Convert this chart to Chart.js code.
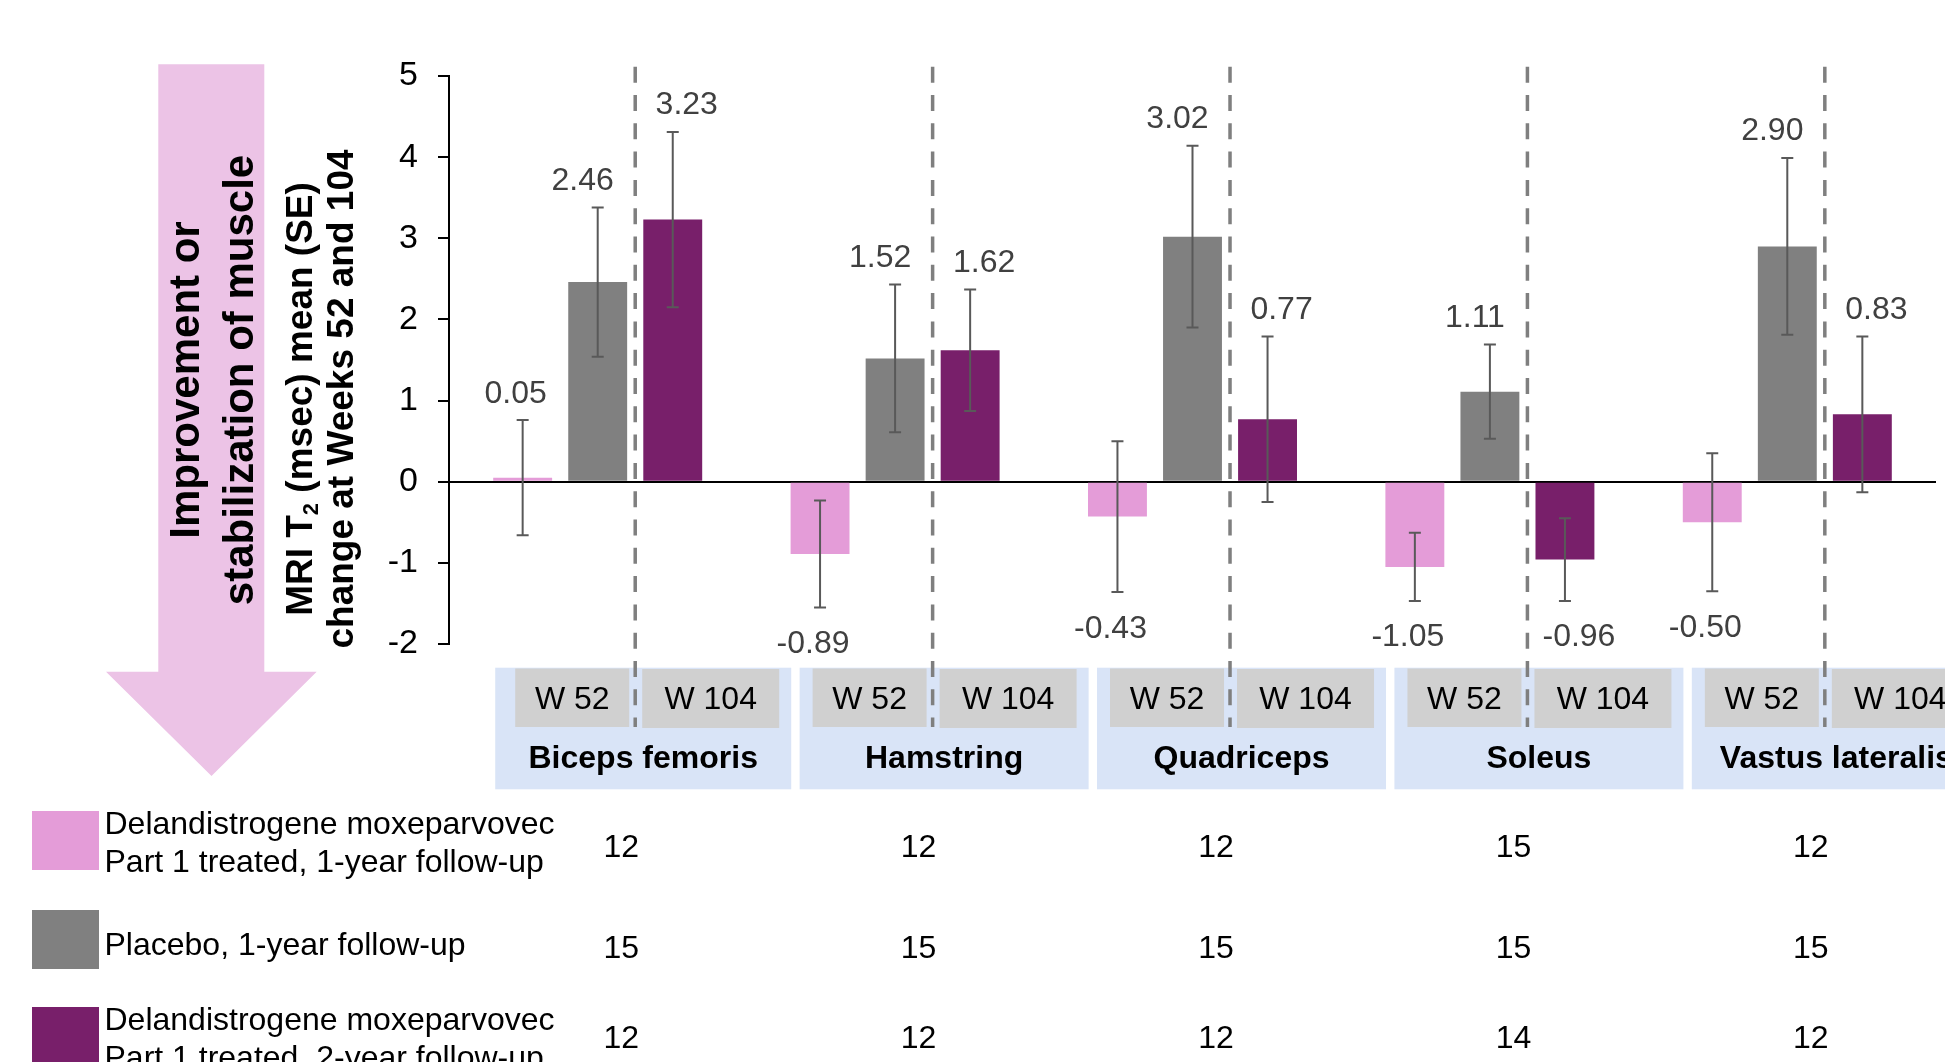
<!DOCTYPE html>
<html>
<head>
<meta charset="utf-8">
<title>MRI T2 change at Weeks 52 and 104</title>
<script src="https://cdn.jsdelivr.net/npm/chart.js@4/dist/chart.umd.min.js"></script>
<style>
  html, body { margin: 0; padding: 0; background: #fff; overflow: hidden; }
  canvas { display: block; }
</style>
</head>
<body>
<canvas id="chart" width="1945" height="1062"></canvas>
<script>
// ---- data ----
const muscles = ['Biceps femoris', 'Hamstring', 'Quadriceps', 'Soleus', 'Vastus lateralis'];
const weekLabels = ['W 52', 'W 104'];
const yTicks = [-2, -1, 0, 1, 2, 3, 4, 5];

const treated1yMean = [0.05, -0.89, -0.43, -1.05, -0.50];
const treated1ySE   = [0.71, 0.66, 0.93, 0.42, 0.85];
const placeboMean   = [2.46, 1.52, 3.02, 1.11, 2.90];
const placeboSE     = [0.92, 0.91, 1.12, 0.58, 1.09];
const treated2yMean = [3.23, 1.62, 0.77, -0.96, 0.83];
const treated2ySE   = [1.08, 0.75, 1.02, 0.51, 0.96];

const nTreated1y = [12, 12, 12, 15, 12];
const nPlacebo   = [15, 15, 15, 15, 15];
const nTreated2y = [12, 12, 12, 14, 12];

const seriesNames = [
  ['Delandistrogene moxeparvovec', 'Part 1 treated, 1-year follow-up'],
  ['Placebo, 1-year follow-up'],
  ['Delandistrogene moxeparvovec', 'Part 1 treated, 2-year follow-up']
];
const arrowText = ['Improvement or', 'stabilization of muscle'];
const yTitleLine1 = ['MRI T', '2', ' (msec) mean (SE)'];
const yTitleLine2 = 'change at Weeks 52 and 104';

// ---- styles ----
const FONT = '"Liberation Sans", Arial, Helvetica, sans-serif';
const COLORS = ['#E49CD8', '#808080', '#781F6A'];
const ARROW_COLOR = '#ECC3E6';
const PANEL_BLUE = '#D9E4F7';
const PANEL_GREY = '#D0D0D0';

Chart.defaults.font.family = FONT;

// Down arrow with its rotated caption, left of the axis
const arrowPlugin = {
  id: 'arrow',
  beforeDraw(chart) {
    const ctx = chart.ctx;
    ctx.save();
    ctx.fillStyle = ARROW_COLOR;
    ctx.beginPath();
    ctx.moveTo(158.3, 64.3);
    ctx.lineTo(264.3, 64.3);
    ctx.lineTo(264.3, 671.7);
    ctx.lineTo(316.7, 671.7);
    ctx.lineTo(211.5, 776);
    ctx.lineTo(106, 671.7);
    ctx.lineTo(158.3, 671.7);
    ctx.closePath();
    ctx.fill();

    ctx.fillStyle = '#000';
    ctx.font = 'bold 42px ' + FONT;
    ctx.textAlign = 'center';
    ctx.textBaseline = 'alphabetic';
    const baselines = [199, 253];
    arrowText.forEach((t, i) => {
      ctx.save();
      ctx.translate(baselines[i], 380);
      ctx.rotate(-Math.PI / 2);
      ctx.fillText(t, 0, 0);
      ctx.restore();
    });
    ctx.restore();
  }
};

// Two-line rotated y-axis title with a subscript
const yTitlePlugin = {
  id: 'yTitle',
  afterDraw(chart) {
    const ctx = chart.ctx;
    const cy = 399;
    ctx.save();
    ctx.fillStyle = '#000';
    ctx.textBaseline = 'alphabetic';
    const big = 'bold 37px ' + FONT, small = 'bold 22px ' + FONT;
    ctx.font = big;
    const w0 = ctx.measureText(yTitleLine1[0]).width;
    const w2 = ctx.measureText(yTitleLine1[2]).width;
    ctx.font = small;
    const w1 = ctx.measureText(yTitleLine1[1]).width;
    const total = w0 + w1 + w2;
    ctx.save();
    ctx.translate(311.7, cy);
    ctx.rotate(-Math.PI / 2);
    ctx.textAlign = 'left';
    let x = -total / 2;
    ctx.font = big; ctx.fillText(yTitleLine1[0], x, 0); x += w0;
    ctx.font = small; ctx.fillText(yTitleLine1[1], x, 6.5); x += w1;
    ctx.font = big; ctx.fillText(yTitleLine1[2], x, 0);
    ctx.restore();
    ctx.save();
    ctx.translate(353, cy);
    ctx.rotate(-Math.PI / 2);
    ctx.textAlign = 'center';
    ctx.font = big;
    ctx.fillText(yTitleLine2, 0, 0);
    ctx.restore();
    ctx.restore();
  }
};

// Position of the divider between the Week 52 and Week 104 bars of each muscle
function dividerX(chart, j) {
  const a = chart.getDatasetMeta(1).data[j];
  const b = chart.getDatasetMeta(2).data[j];
  return (a.x + b.x) / 2;
}

// Category panels, dashed dividers, N table and legend
const panelsPlugin = {
  id: 'panels',
  afterDraw(chart) {
    const ctx = chart.ctx;
    ctx.save();
    muscles.forEach((name, j) => {
      const d = dividerX(chart, j);
      // blue panel (the first one reaches a little further left)
      const left = d - 133 - (j === 0 ? 7 : 0);
      const right = d + 156;
      ctx.fillStyle = PANEL_BLUE;
      ctx.fillRect(left, 667.7, right - left, 121.6);
      // week boxes
      ctx.fillStyle = PANEL_GREY;
      ctx.fillRect(d - 120, 668.5, 114, 58.5);
      ctx.fillRect(d + 7, 669, 137, 59);
      ctx.fillStyle = '#000';
      ctx.textAlign = 'center';
      ctx.textBaseline = 'alphabetic';
      ctx.font = '32px ' + FONT;
      ctx.fillText(weekLabels[0], d - 63, 709.3);
      ctx.fillText(weekLabels[1], d + 75.5, 709.3);
      ctx.font = 'bold 32px ' + FONT;
      ctx.fillText(name, (left + right) / 2, 768.3);
      // N per group
      ctx.font = '32px ' + FONT;
      ctx.fillText(String(nTreated1y[j]), d - 14, 856.7);
      ctx.fillText(String(nPlacebo[j]), d - 14, 958.3);
      ctx.fillText(String(nTreated2y[j]), d - 14, 1048.3);
    });
    // dashed dividers
    ctx.strokeStyle = '#7F7F7F';
    ctx.lineWidth = 3.5;
    ctx.setLineDash([16, 12.3]);
    muscles.forEach((_, j) => {
      const d = dividerX(chart, j);
      ctx.beginPath();
      ctx.moveTo(d, 66.7);
      ctx.lineTo(d, 727);
      ctx.stroke();
    });
    ctx.setLineDash([]);

    // legend
    const boxTops = [811, 910, 1007];
    const textBaselines = [[834, 871.7], [955], [1030, 1067.7]];
    ctx.textAlign = 'left';
    ctx.font = '32px ' + FONT;
    seriesNames.forEach((lines, i) => {
      ctx.fillStyle = COLORS[i];
      ctx.fillRect(32, boxTops[i], 67, 59);
      ctx.fillStyle = '#000';
      lines.forEach((t, k) => ctx.fillText(t, 104.5, textBaselines[i][k]));
    });
    ctx.restore();
  }
};

// SE whiskers and value labels
const errorBarPlugin = {
  id: 'errorBars',
  afterDatasetsDraw(chart) {
    const ctx = chart.ctx;
    const y = chart.scales.y;
    ctx.save();
    chart.data.datasets.forEach((ds, i) => {
      const meta = chart.getDatasetMeta(i);
      meta.data.forEach((bar, j) => {
        const v = ds.data[j], e = ds.se[j];
        const top = y.getPixelForValue(v + e);
        const bot = y.getPixelForValue(v - e);
        ctx.strokeStyle = '#595959';
        ctx.lineWidth = 2;
        ctx.beginPath();
        ctx.moveTo(bar.x, top); ctx.lineTo(bar.x, bot);
        ctx.moveTo(bar.x - 6, top); ctx.lineTo(bar.x + 6, top);
        ctx.moveTo(bar.x - 6, bot); ctx.lineTo(bar.x + 6, bot);
        ctx.stroke();

        ctx.fillStyle = '#404040';
        ctx.font = '32px ' + FONT;
        ctx.textAlign = 'center';
        ctx.textBaseline = 'alphabetic';
        const mid = v >= 0 ? top - 29 : bot + 34;
        ctx.fillText(v.toFixed(2), bar.x + ds.labelShift, mid + 11.5);
      });
    });
    ctx.restore();
  }
};

new Chart(document.getElementById('chart'), {
  type: 'bar',
  data: {
    labels: muscles,
    datasets: [
      { label: seriesNames[0].join(' '), data: treated1yMean, se: treated1ySE, backgroundColor: COLORS[0], labelShift: -7 },
      { label: seriesNames[1].join(' '), data: placeboMean, se: placeboSE, backgroundColor: COLORS[1], labelShift: -15 },
      { label: seriesNames[2].join(' '), data: treated2yMean, se: treated2ySE, backgroundColor: COLORS[2], labelShift: 14 }
    ]
  },
  options: {
    responsive: false,
    animation: false,
    devicePixelRatio: 1,
    layout: { padding: { top: 76, bottom: 418, left: 0, right: 9 } },
    datasets: { bar: { categoryPercentage: 0.757, barPercentage: 0.785, borderWidth: 0 } },
    plugins: { legend: { display: false }, tooltip: { enabled: false }, title: { display: false } },
    scales: {
      x: { display: false },
      y: {
        min: -2,
        max: 5,
        z: 1,
        afterBuildTicks: s => { s.ticks = yTicks.map(v => ({ value: v })); },
        afterFit: s => { s.width = 449; },
        ticks: { color: '#000', font: { size: 34 }, padding: 20 },
        grid: {
          drawOnChartArea: true,
          color: c => (c.tick && c.tick.value === 0 ? '#000' : 'rgba(0,0,0,0)'),
          lineWidth: 2,
          tickLength: 11,
          tickColor: '#000',
          tickWidth: 2
        },
        border: { display: true, color: '#000', width: 2 }
      }
    }
  },
  plugins: [arrowPlugin, yTitlePlugin, panelsPlugin, errorBarPlugin]
});
</script>
</body>
</html>
